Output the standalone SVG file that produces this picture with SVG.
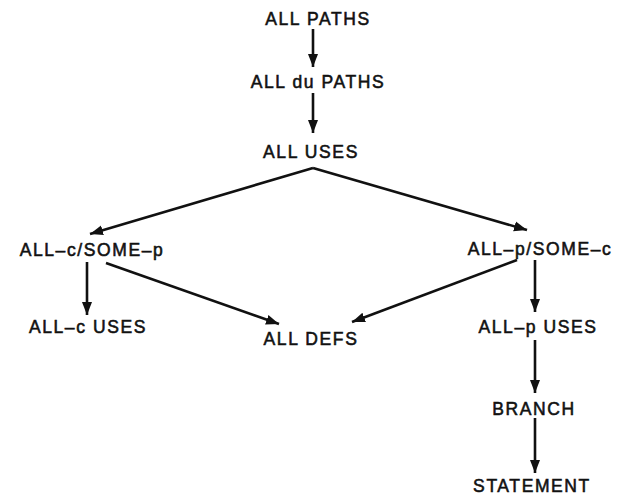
<svg xmlns="http://www.w3.org/2000/svg" width="620" height="497" viewBox="0 0 620 497">
<defs>
<marker id="ah" markerUnits="userSpaceOnUse" markerWidth="14" markerHeight="12" viewBox="0 0 14 12" refX="13" refY="6" orient="auto">
<path d="M0,1 L13,6 L0,11 Z" fill="#111"/>
</marker>
<style>
text{font-family:"Liberation Sans",Arial,sans-serif;font-size:17.5px;font-weight:normal;letter-spacing:1.6px;fill:#111;stroke:#111;stroke-width:0.55px;text-anchor:middle}
.c line,.c path{stroke:#111;stroke-width:2.6;fill:none;marker-end:url(#ah)}
</style>
</defs>
<rect width="620" height="497" fill="#fff"/>
<g id="n-allpaths"><text x="318" y="25">ALL PATHS</text></g>
<g id="n-alldupaths"><text x="318" y="88">ALL du PATHS</text></g>
<g id="n-alluses"><text x="311" y="158">ALL USES</text></g>
<g id="n-allc-somep"><text x="92" y="256">ALL–c/SOME–p</text></g>
<g id="n-allp-somec"><text x="540" y="255">ALL–p/SOME–c</text></g>
<g id="n-allc-uses"><text x="88" y="333">ALL–c USES</text></g>
<g id="n-alldefs"><text x="311" y="345">ALL DEFS</text></g>
<g id="n-allp-uses"><text x="538" y="333">ALL–p USES</text></g>
<g id="n-branch"><text x="534" y="415">BRANCH</text></g>
<g id="n-statement"><text x="532" y="492">STATEMENT</text></g>
<g class="c" id="connectors">
<line x1="313" y1="29" x2="313" y2="67"/>
<line x1="313" y1="93" x2="313" y2="133"/>
<path d="M313,168 L90,234"/>
<path d="M313,168 L527,230"/>
<line x1="87" y1="262" x2="87" y2="315"/>
<line x1="106" y1="263" x2="279" y2="324"/>
<line x1="517" y1="260" x2="352" y2="322"/>
<line x1="535" y1="260" x2="535" y2="312"/>
<line x1="535" y1="340" x2="535" y2="393"/>
<line x1="535" y1="418" x2="535" y2="473"/>
</g>
</svg>
